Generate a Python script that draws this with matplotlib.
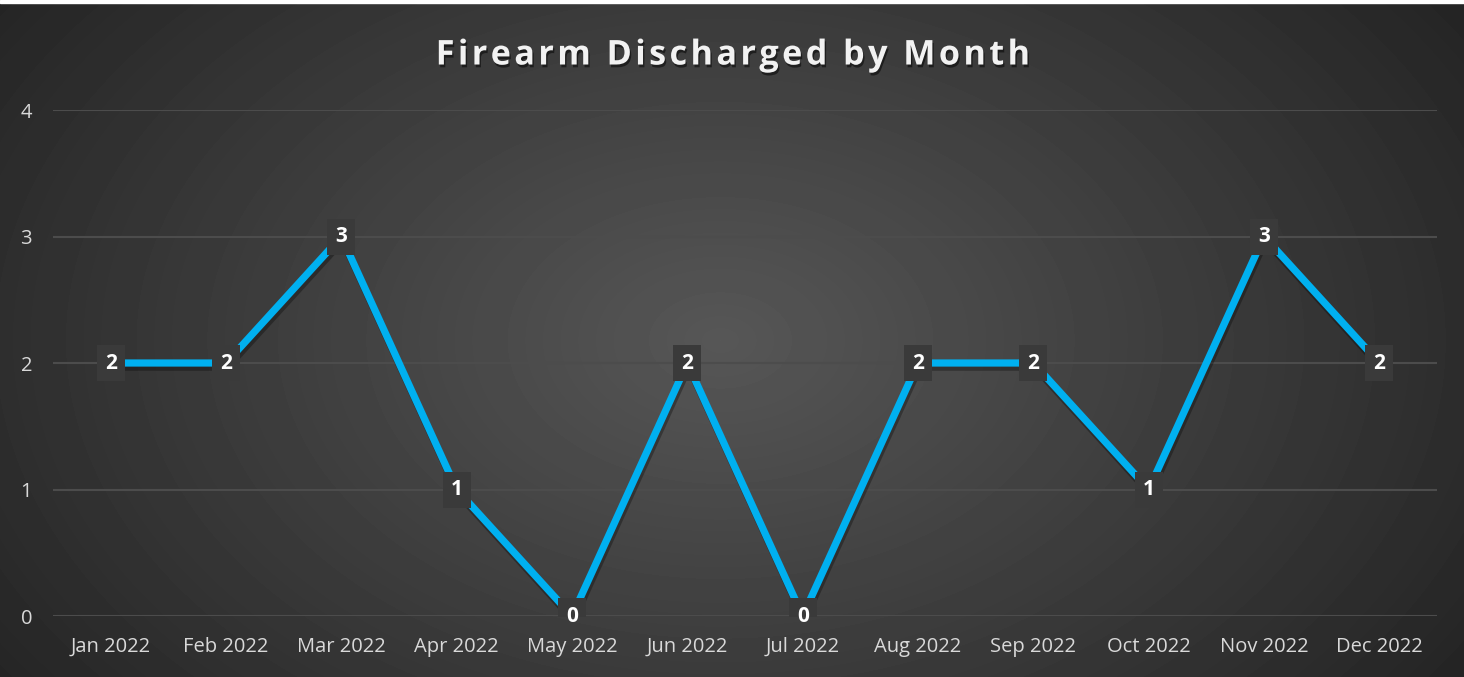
import numpy as np
import matplotlib.pyplot as plt
import matplotlib.patheffects as pe
from matplotlib.path import Path

plt.rcParams['font.family'] = ['Open Sans', 'DejaVu Sans']

months = ['Jan 2022', 'Feb 2022', 'Mar 2022', 'Apr 2022', 'May 2022', 'Jun 2022',
          'Jul 2022', 'Aug 2022', 'Sep 2022', 'Oct 2022', 'Nov 2022', 'Dec 2022']
counts = [2, 2, 3, 1, 0, 2, 0, 2, 2, 1, 3, 2]
yticks = [0, 1, 2, 3, 4]
title = 'Firearm Discharged by Month'

fig = plt.figure(figsize=(14.64, 6.77), dpi=100)

# radial gradient background
bg = fig.add_axes([0, 0, 1, 1], zorder=-10)
yy, xx = np.mgrid[0:677, 0:1464]
r = np.sqrt(((xx - 720) / 950.0) ** 2 + ((yy - 340) / 640.0) ** 2)
shade = np.clip(0.34 - 0.21 * r, 0.14, 0.34)
bg.imshow(shade, cmap='gray', vmin=0, vmax=1, aspect='auto', interpolation='bilinear')
bg.axhspan(-0.5, 2.5, color='white')
bg.set_xlim(-0.5, 1463.5)
bg.set_ylim(676.5, -0.5)
bg.axis('off')

ax = fig.add_axes([0.0362, 0.0901, 0.9454, 0.7474])
ax.patch.set_alpha(0)
x = np.arange(len(months))
ax.plot(x, counts, color='#00B0F0', linewidth=5.2, solid_joinstyle='miter', zorder=3,
        path_effects=[pe.SimpleLineShadow(offset=(1, -3), shadow_color='black', alpha=0.3),
                      pe.Normal()])

# label boxes (28 x 37 px)
box = Path([(-14, -18.5), (14, -18.5), (14, 18.5), (-14, 18.5), (-14, -18.5)],
           [Path.MOVETO, Path.LINETO, Path.LINETO, Path.LINETO, Path.CLOSEPOLY])
ax.plot(x, counts, linestyle='none', marker=box, markersize=26.6,
        markerfacecolor='#3a3a3a', markeredgewidth=0, zorder=4)
for xi, v in zip(x, counts):
    ax.text(xi, v, str(v), ha='center', va='center', color='white', fontsize=15,
            fontweight='bold', zorder=5)

ax.set_xlim(-0.5, 11.5)
ax.set_ylim(0, 4)
ax.set_xticks(x)
ax.set_xticklabels(months)
ax.set_yticks(yticks)
ax.tick_params(axis='both', length=0, colors='#d9d9d9', labelsize=14.5)
ax.tick_params(axis='x', pad=15)
ax.tick_params(axis='y', pad=15)
ax.grid(axis='y', color='#4c4c4c', linewidth=1.5)
ax.set_axisbelow(True)
for s in ax.spines.values():
    s.set_visible(False)

spaced = '\u200a'.join(title)
fig.text(0.5, 0.918, spaced, ha='center', va='center',
         color='#f2f2f2', fontsize=24.6, fontweight='bold',
         path_effects=[pe.withSimplePatchShadow(offset=(1, -2), shadow_rgbFace='black', alpha=0.5)])

fig.savefig('out.png', dpi=100)
